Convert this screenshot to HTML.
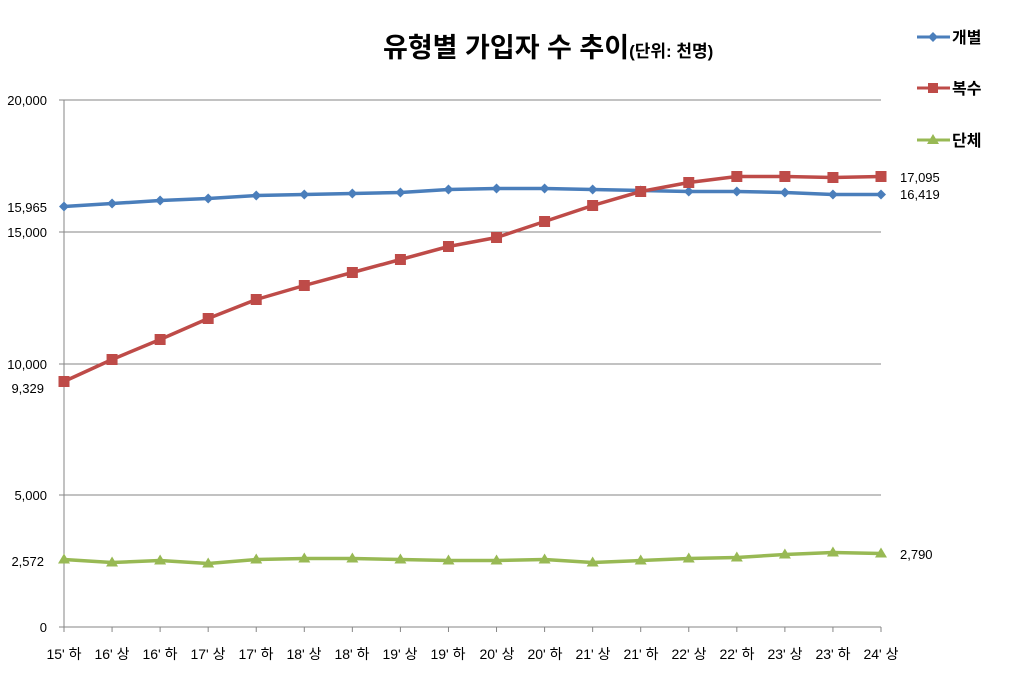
<!DOCTYPE html>
<html><head><meta charset="utf-8"><style>
body{margin:0;background:#fff}
svg{display:block;font-family:"Liberation Sans","Noto Sans CJK KR",sans-serif}
</style></head><body>
<svg id="c" width="1024" height="674" viewBox="0 0 1024 674">
<text x="383" y="57" font-size="27" font-weight="bold" fill="#000">유형별 가입자 수 추이<tspan font-size="17">(단위: 천명)</tspan></text>
<g stroke="#868686" stroke-width="1">
<line x1="64" y1="100" x2="881" y2="100"/><line x1="64" y1="232" x2="881" y2="232"/>
<line x1="64" y1="364" x2="881" y2="364"/><line x1="64" y1="495" x2="881" y2="495"/>
<line x1="64" y1="627" x2="881" y2="627"/><line x1="64" y1="100" x2="64" y2="627"/>
<line x1="59" y1="100" x2="64" y2="100"/><line x1="59" y1="232" x2="64" y2="232"/><line x1="59" y1="364" x2="64" y2="364"/><line x1="59" y1="495" x2="64" y2="495"/><line x1="59" y1="627" x2="64" y2="627"/>
</g>
<g id="ticks" stroke="#868686"></g>
<g font-size="13" fill="#000" text-anchor="end">
<text x="47" y="105">20,000</text><text x="47" y="237">15,000</text><text x="47" y="369">10,000</text><text x="47" y="500">5,000</text><text x="47" y="632">0</text>
<text x="47" y="212">15,965</text><text x="44" y="393">9,329</text><text x="44" y="566">2,572</text>
</g>
<g font-size="13" fill="#000">
<text x="900" y="182">17,095</text><text x="900" y="199">16,419</text><text x="900" y="559">2,790</text>
</g>
<g font-size="14" fill="#000" text-anchor="middle">
<text x="64" y="659">15' 하</text><text x="112" y="659">16' 상</text><text x="160" y="659">16' 하</text><text x="208" y="659">17' 상</text><text x="256" y="659">17' 하</text><text x="304" y="659">18' 상</text><text x="352" y="659">18' 하</text><text x="400" y="659">19' 상</text><text x="448" y="659">19' 하</text><text x="497" y="659">20' 상</text><text x="545" y="659">20' 하</text><text x="593" y="659">21' 상</text><text x="641" y="659">21' 하</text><text x="689" y="659">22' 상</text><text x="737" y="659">22' 하</text><text x="785" y="659">23' 상</text><text x="833" y="659">23' 하</text><text x="881" y="659">24' 상</text>
</g>
<g font-size="16" font-weight="bold" fill="#000">
<text x="952" y="43">개별</text><text x="952" y="94">복수</text><text x="952" y="146">단체</text>
</g>
<line x1="917" y1="37" x2="950" y2="37" stroke="#4a7ebb" stroke-width="3"/><polygon points="933,32 938,37 933,42 928,37" fill="#4a7ebb"/>
<line x1="917" y1="88" x2="950" y2="88" stroke="#be4b48" stroke-width="3"/><rect x="928" y="83" width="10" height="10" fill="#be4b48"/>
<line x1="917" y1="140" x2="950" y2="140" stroke="#98b954" stroke-width="3"/><polygon points="933,134 939,144 927,144" fill="#98b954"/>
<g id="series"></g>
</svg>
<script>
var B=[206,203,200,198,195,194,193,192,189,188,188,189,190,191,191,192,194,194];
var R=[381,359,339,318,299,285,272,259,246,237,221,205,191,182,176,176,177,176];
var G=[559,562,560,563,559,558,558,559,560,560,559,562,560,558,557,554,552,553];
var ns="http://www.w3.org/2000/svg",s=document.getElementById("series"),t=document.getElementById("ticks");
function X(i){return 64+i*817/17}
function el(n,a,p){var e=document.createElementNS(ns,n);for(var k in a)e.setAttribute(k,a[k]);(p||s).appendChild(e);return e}
for(var i=0;i<18;i++)el("line",{x1:X(i),y1:627,x2:X(i),y2:632},t);
function line(d,c){el("polyline",{points:d.map(function(y,i){return X(i)+","+(y+0.5)}).join(" "),fill:"none",stroke:c,"stroke-width":3.5,"stroke-linejoin":"round"})}
line(B,"#4a7ebb");line(R,"#be4b48");line(G,"#98b954");
B.forEach(function(y,i){var x=X(i);y+=0.5;el("polygon",{points:x+","+(y-5)+" "+(x+5)+","+y+" "+x+","+(y+5)+" "+(x-5)+","+y,fill:"#4a7ebb"})});
R.forEach(function(y,i){el("rect",{x:X(i)-5.5,y:y-5,width:11,height:11,fill:"#be4b48"})});
G.forEach(function(y,i){var x=X(i);y+=0.5;el("polygon",{points:x+","+(y-6)+" "+(x+6)+","+(y+4)+" "+(x-6)+","+(y+4),fill:"#98b954"})});
</script>
</body></html>
